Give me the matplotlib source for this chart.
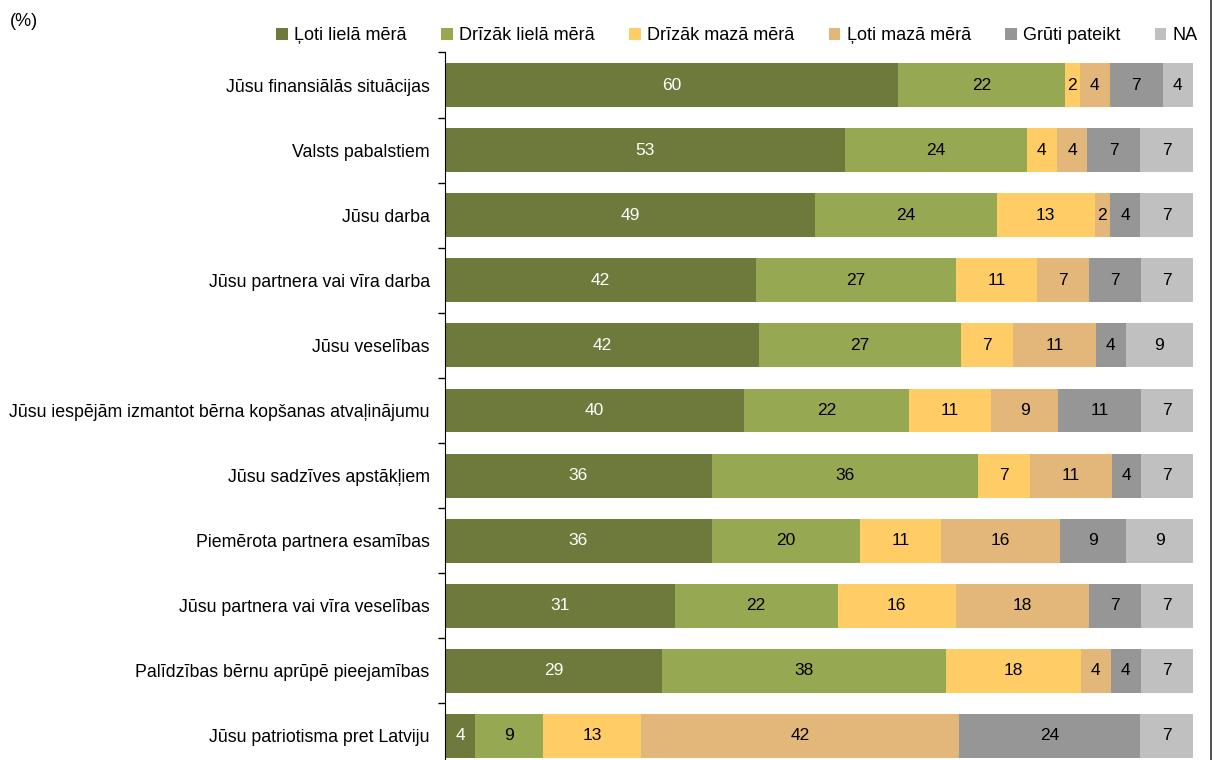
import numpy as np
import matplotlib
matplotlib.use("Agg")
import matplotlib.pyplot as plt
from matplotlib.patches import Patch
from matplotlib.lines import Line2D
from matplotlib.ticker import FixedLocator, NullLocator

plt.rcParams['font.family'] = ['Liberation Sans Narrow', 'Liberation Sans', 'DejaVu Sans']

categories = [
    "Jūsu finansiālās situācijas",
    "Valsts pabalstiem",
    "Jūsu darba",
    "Jūsu partnera vai vīra darba",
    "Jūsu veselības",
    "Jūsu iespējām izmantot bērna kopšanas atvaļinājumu",
    "Jūsu sadzīves apstākļiem",
    "Piemērota partnera esamības",
    "Jūsu partnera vai vīra veselības",
    "Palīdzības bērnu aprūpē pieejamības",
    "Jūsu patriotisma pret Latviju",
]
series_names = ["Ļoti lielā mērā", "Drīzāk lielā mērā", "Drīzāk mazā mērā",
                "Ļoti mazā mērā", "Grūti pateikt", "NA"]
loti_liela = [60, 53, 49, 42, 42, 40, 36, 36, 31, 29, 4]
drizak_liela = [22, 24, 24, 27, 27, 22, 36, 20, 22, 38, 9]
drizak_maza = [2, 4, 13, 11, 7, 11, 7, 11, 16, 18, 13]
loti_maza = [4, 4, 2, 7, 11, 9, 11, 16, 18, 4, 42]
gruti = [7, 7, 4, 7, 4, 11, 4, 9, 7, 4, 24]
na = [4, 7, 7, 7, 9, 7, 7, 9, 7, 7, 7]

colors = ["#6E7A3B", "#97A853", "#FFCC66", "#E3B679", "#969696", "#C0C0C0"]
text_colors = ["white", "black", "black", "black", "black", "black"]

vals = np.array([loti_liela, drizak_liela, drizak_maza, loti_maza, gruti, na], dtype=float)
# labels are rounded; bars are scaled so every row fills 100 %
shares = vals / vals.sum(axis=0) * 100

fig = plt.figure(figsize=(12.12, 7.6), dpi=100)
ax = fig.add_axes([445 / 1212, -8.5 / 760, 748 / 1212, 716 / 760])

y = np.arange(len(categories))
left = np.zeros(len(categories))
for i in range(len(series_names)):
    ax.barh(y, shares[i], left=left, height=0.675, color=colors[i], edgecolor='none')
    for j in range(len(categories)):
        ax.text(left[j] + shares[i][j] / 2, y[j], "%d" % vals[i][j], ha='center', va='center',
                fontsize=12.5, color=text_colors[i])
    left += shares[i]

ax.set_xlim(0, 100)
ax.set_ylim(len(categories) - 0.5, -0.5)
ax.set_yticks(y)
ax.set_yticklabels(categories, fontsize=12.8)
ax.yaxis.set_minor_locator(FixedLocator(np.arange(-0.5, len(categories), 1)))
ax.tick_params(axis='y', which='major', length=0, pad=11)
ax.tick_params(axis='y', which='minor', length=5, width=1, direction='out')
ax.xaxis.set_major_locator(NullLocator())
for s in ['top', 'right', 'bottom']:
    ax.spines[s].set_visible(False)
ax.spines['left'].set_color('black')

handles = [Patch(facecolor=c, edgecolor='none') for c in colors]
fig.legend(handles, series_names, loc='center', bbox_to_anchor=(737 / 1212, 1 - 36 / 760),
           ncol=6, frameon=False, fontsize=13, handlelength=0.65, handleheight=0.65,
           handletextpad=0.35, columnspacing=1.9)

fig.text(10 / 1212, 1 - 22 / 760, "(%)", fontsize=13, va='center', ha='left')

# right border of the chart area
fig.add_artist(Line2D([1210.5 / 1212, 1210.5 / 1212], [0, 1], color='#333333', lw=1.2,
                      transform=fig.transFigure))

fig.savefig("out.png", dpi=100)
